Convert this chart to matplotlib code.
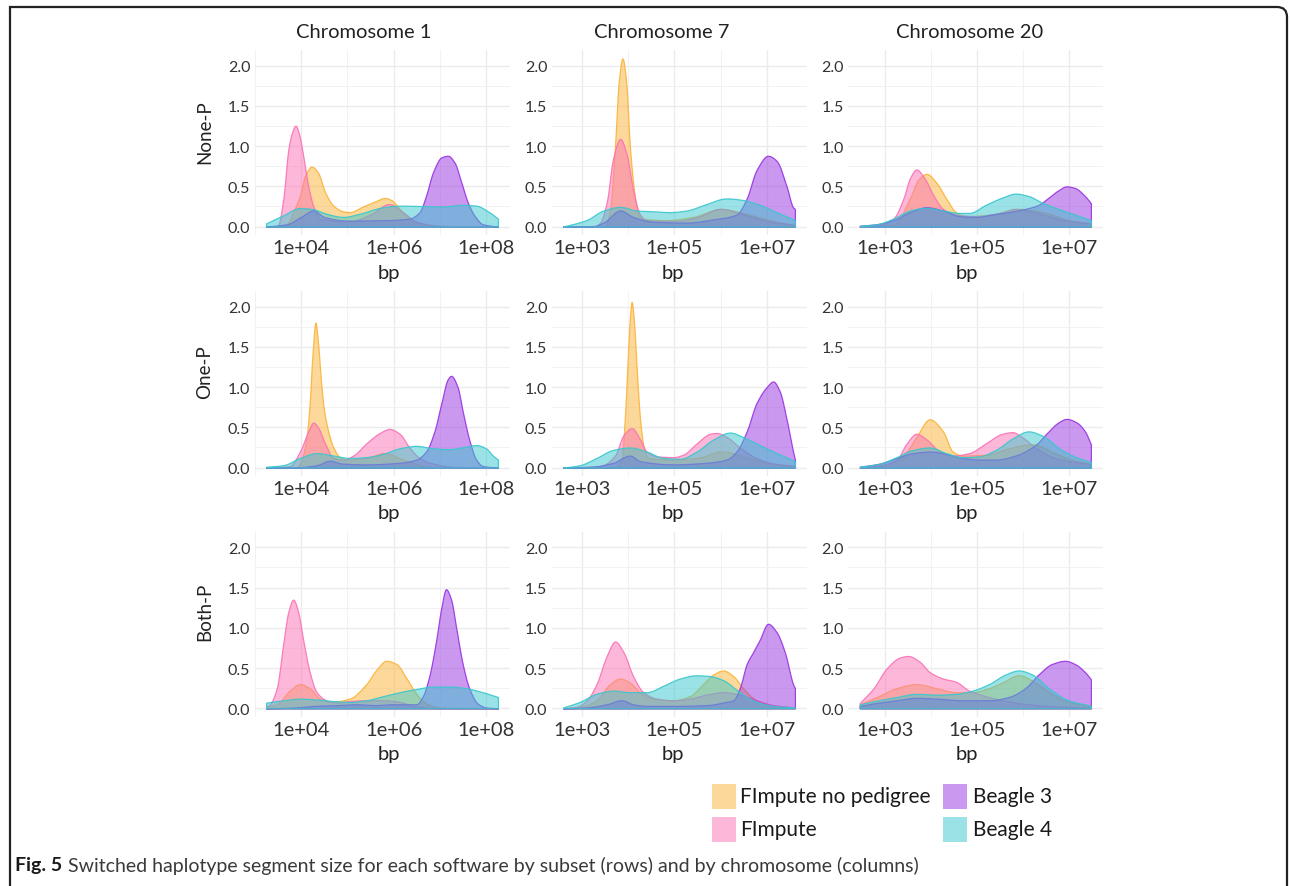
import numpy as np
import matplotlib
matplotlib.use("Agg")
import matplotlib.pyplot as plt
from matplotlib.patches import Rectangle, PathPatch
from matplotlib.path import Path
from matplotlib.ticker import FixedLocator, FuncFormatter, NullFormatter

plt.rcParams['font.family'] = ['Lato', 'DejaVu Sans']

# ---------------- data (x = log10 of segment size in bp, y = density) ----------------
chromosomes = ['Chromosome 1', 'Chromosome 7', 'Chromosome 20']
subsets = ['None-P', 'One-P', 'Both-P']
software = ['FImpute no pedigree', 'FImpute', 'Beagle 3', 'Beagle 4']
x_label_breaks = [[4, 6, 8], [3, 5, 7], [3, 5, 7]]
y_breaks = [0.0, 0.5, 1.0, 1.5, 2.0]

# Chromosome 1, None-P
c1_none_nop_x = [3.25, 3.6, 3.7, 3.85, 3.98, 4.09, 4.23, 4.37, 4.52, 4.70, 4.91, 5.05, 5.34, 5.63, 5.81, 5.95, 6.13, 6.27, 6.49, 6.8, 7.2, 8.25]
c1_none_nop_y = [0.0, 0.0, 0.03, 0.2, 0.385, 0.63, 0.745, 0.67, 0.43, 0.26, 0.19, 0.18, 0.25, 0.32, 0.356, 0.33, 0.22, 0.13, 0.05, 0.01, 0.0, 0.0]
c1_none_fim_x = [3.25, 3.5, 3.62, 3.73, 3.80, 3.885, 3.96, 4.05, 4.16, 4.27, 4.41, 4.6, 5.0, 5.5, 5.9, 6.2, 6.5, 7.0, 8.25]
c1_none_fim_y = [0.0, 0.01, 0.34, 0.96, 1.15, 1.255, 1.15, 0.88, 0.5, 0.25, 0.1, 0.08, 0.06, 0.15, 0.28, 0.18, 0.06, 0.01, 0.0]
c1_none_b3_x = [3.25, 3.7, 4.0, 4.27, 4.5, 5.0, 5.8, 6.34, 6.56, 6.70, 6.85, 7.03, 7.17, 7.31, 7.46, 7.60, 7.74, 7.92, 8.25]
c1_none_b3_y = [0.0, 0.03, 0.12, 0.2, 0.12, 0.075, 0.08, 0.1, 0.18, 0.385, 0.675, 0.86, 0.88, 0.8, 0.55, 0.3, 0.14, 0.03, 0.0]
c1_none_b4_x = [3.25, 3.62, 3.98, 4.23, 4.55, 4.91, 5.27, 5.77, 6.13, 6.63, 7.06, 7.49, 7.78, 8.06, 8.25]
c1_none_b4_y = [0.04, 0.14, 0.23, 0.22, 0.16, 0.12, 0.16, 0.24, 0.26, 0.255, 0.25, 0.27, 0.26, 0.18, 0.10]

# Chromosome 7, None-P
c7_none_nop_x = [2.6, 3.5, 3.61, 3.72, 3.80, 3.88, 3.96, 4.04, 4.13, 4.22, 4.33, 4.8, 5.4, 6.0, 6.6, 7.2, 7.6]
c7_none_nop_y = [0.0, 0.0, 0.2, 1.0, 1.8, 2.09, 1.8, 1.0, 0.45, 0.15, 0.1, 0.08, 0.12, 0.22, 0.15, 0.06, 0.02]
c7_none_fim_x = [2.6, 3.3, 3.40, 3.54, 3.68, 3.83, 3.97, 4.11, 4.26, 4.40, 5.0, 5.5, 6.0, 6.5, 7.0, 7.6]
c7_none_fim_y = [0.0, 0.01, 0.05, 0.3, 0.85, 1.09, 0.9, 0.45, 0.15, 0.08, 0.07, 0.12, 0.22, 0.15, 0.07, 0.02]
c7_none_b3_x = [2.6, 3.2, 3.47, 3.83, 4.11, 4.54, 5.26, 5.84, 6.34, 6.56, 6.77, 7.02, 7.20, 7.42, 7.56, 7.6]
c7_none_b3_y = [0.0, 0.0, 0.05, 0.2, 0.12, 0.06, 0.05, 0.09, 0.15, 0.35, 0.7, 0.88, 0.82, 0.5, 0.24, 0.22]
c7_none_b4_x = [2.6, 3.1, 3.47, 3.83, 4.19, 4.54, 4.90, 5.26, 5.69, 6.12, 6.48, 6.84, 7.20, 7.6]
c7_none_b4_y = [0.0, 0.08, 0.2, 0.245, 0.2, 0.19, 0.18, 0.2, 0.28, 0.35, 0.33, 0.27, 0.18, 0.08]

# Chromosome 20, None-P
c20_none_nop_x = [2.45, 3.2, 3.54, 3.72, 3.90, 4.11, 4.33, 4.54, 4.76, 5.3, 5.9, 6.5, 7.0, 7.48]
c20_none_nop_y = [0.0, 0.03, 0.35, 0.58, 0.655, 0.55, 0.35, 0.18, 0.13, 0.15, 0.22, 0.17, 0.08, 0.04]
c20_none_fim_x = [2.45, 2.9, 3.18, 3.40, 3.54, 3.68, 3.86, 4.04, 4.26, 4.54, 5.0, 5.5, 5.84, 6.3, 6.9, 7.48]
c20_none_fim_y = [0.0, 0.02, 0.1, 0.35, 0.6, 0.71, 0.6, 0.4, 0.22, 0.15, 0.13, 0.17, 0.22, 0.17, 0.08, 0.04]
c20_none_b3_x = [2.45, 2.82, 3.18, 3.54, 3.90, 4.26, 4.62, 4.98, 5.33, 5.69, 6.05, 6.34, 6.56, 6.77, 6.95, 7.13, 7.35, 7.48]
c20_none_b3_y = [0.01, 0.03, 0.08, 0.18, 0.24, 0.2, 0.13, 0.12, 0.15, 0.18, 0.22, 0.27, 0.36, 0.45, 0.5, 0.48, 0.38, 0.29]
c20_none_b4_x = [2.45, 2.82, 3.18, 3.54, 3.90, 4.26, 4.62, 4.83, 5.19, 5.55, 5.84, 6.12, 6.41, 6.77, 7.13, 7.48]
c20_none_b4_y = [0.01, 0.03, 0.1, 0.2, 0.235, 0.2, 0.17, 0.17, 0.27, 0.36, 0.41, 0.38, 0.3, 0.22, 0.15, 0.08]

# Chromosome 1, One-P
c1_one_nop_x = [3.25, 3.9, 3.98, 4.12, 4.19, 4.25, 4.315, 4.37, 4.43, 4.49, 4.59, 4.70, 4.84, 5.0, 5.4, 5.8, 6.2, 6.6, 7.0, 8.25]
c1_one_nop_y = [0.0, 0.0, 0.05, 0.36, 0.8, 1.4, 1.80, 1.55, 1.1, 0.75, 0.45, 0.25, 0.13, 0.1, 0.12, 0.18, 0.1, 0.03, 0.0, 0.0]
c1_one_fim_x = [3.25, 3.76, 3.98, 4.16, 4.27, 4.37, 4.52, 4.70, 4.91, 5.13, 5.41, 5.70, 5.91, 6.13, 6.34, 6.56, 6.85, 7.3, 8.25]
c1_one_fim_y = [0.0, 0.02, 0.2, 0.45, 0.56, 0.5, 0.3, 0.12, 0.1, 0.15, 0.3, 0.43, 0.48, 0.42, 0.25, 0.12, 0.05, 0.01, 0.0]
c1_one_b3_x = [3.25, 3.8, 4.34, 4.62, 4.9, 5.4, 6.13, 6.49, 6.70, 6.88, 7.03, 7.17, 7.24, 7.38, 7.49, 7.63, 7.78, 7.92, 8.25]
c1_one_b3_y = [0.0, 0.0, 0.03, 0.085, 0.05, 0.04, 0.06, 0.1, 0.2, 0.45, 0.8, 1.1, 1.14, 1.0, 0.7, 0.35, 0.1, 0.02, 0.0]
c1_one_b4_x = [3.25, 3.62, 3.98, 4.34, 4.70, 5.05, 5.41, 5.77, 6.13, 6.49, 6.85, 7.20, 7.56, 7.78, 7.99, 8.14, 8.25]
c1_one_b4_y = [0.01, 0.03, 0.12, 0.18, 0.15, 0.12, 0.13, 0.17, 0.24, 0.27, 0.24, 0.23, 0.26, 0.28, 0.24, 0.15, 0.1]

# Chromosome 7, One-P
c7_one_nop_x = [2.6, 3.7, 3.86, 3.93, 3.99, 4.04, 4.08, 4.13, 4.19, 4.26, 4.34, 4.44, 5.0, 5.5, 6.02, 6.6, 7.1, 7.6]
c7_one_nop_y = [0.0, 0.0, 0.1, 0.6, 1.3, 1.85, 2.06, 1.8, 1.2, 0.6, 0.25, 0.12, 0.1, 0.12, 0.2, 0.12, 0.05, 0.02]
c7_one_fim_x = [2.6, 3.4, 3.72, 3.90, 4.08, 4.26, 4.40, 4.62, 4.98, 5.19, 5.48, 5.77, 5.91, 6.13, 6.41, 6.77, 7.13, 7.6]
c7_one_fim_y = [0.0, 0.02, 0.15, 0.4, 0.49, 0.35, 0.2, 0.14, 0.13, 0.16, 0.3, 0.42, 0.43, 0.38, 0.25, 0.12, 0.05, 0.02]
c7_one_b3_x = [2.6, 3.2, 3.68, 4.04, 4.26, 4.98, 5.69, 6.12, 6.34, 6.56, 6.77, 6.99, 7.13, 7.27, 7.42, 7.56, 7.6]
c7_one_b3_y = [0.0, 0.01, 0.06, 0.15, 0.08, 0.04, 0.06, 0.1, 0.2, 0.45, 0.8, 1.0, 1.07, 0.95, 0.6, 0.2, 0.1]
c7_one_b4_x = [2.6, 2.96, 3.32, 3.68, 4.04, 4.40, 4.76, 5.12, 5.48, 5.84, 6.20, 6.48, 6.77, 7.13, 7.6]
c7_one_b4_y = [0.0, 0.03, 0.12, 0.22, 0.25, 0.2, 0.12, 0.11, 0.2, 0.35, 0.435, 0.38, 0.3, 0.2, 0.08]

# Chromosome 20, One-P
c20_one_nop_x = [2.45, 3.0, 3.47, 3.68, 3.97, 4.26, 4.47, 4.69, 5.2, 5.7, 6.2, 6.7, 7.1, 7.48]
c20_one_nop_y = [0.0, 0.03, 0.2, 0.38, 0.6, 0.45, 0.2, 0.15, 0.16, 0.24, 0.29, 0.18, 0.09, 0.05]
c20_one_fim_x = [2.45, 2.9, 3.25, 3.47, 3.68, 3.90, 4.19, 4.47, 4.83, 5.19, 5.55, 5.77, 5.98, 6.27, 6.70, 7.48]
c20_one_fim_y = [0.0, 0.03, 0.1, 0.3, 0.42, 0.35, 0.2, 0.15, 0.18, 0.3, 0.42, 0.44, 0.38, 0.25, 0.12, 0.04]
c20_one_b3_x = [2.45, 2.89, 3.25, 3.61, 3.97, 4.33, 4.69, 5.05, 5.41, 5.84, 6.27, 6.56, 6.77, 6.95, 7.17, 7.35, 7.48]
c20_one_b3_y = [0.01, 0.05, 0.12, 0.18, 0.2, 0.17, 0.12, 0.1, 0.1, 0.15, 0.28, 0.45, 0.56, 0.605, 0.56, 0.45, 0.29]
c20_one_b4_x = [2.45, 2.89, 3.25, 3.61, 3.97, 4.33, 4.69, 5.05, 5.41, 5.77, 6.12, 6.41, 6.84, 7.20, 7.48]
c20_one_b4_y = [0.01, 0.05, 0.13, 0.22, 0.25, 0.18, 0.13, 0.14, 0.22, 0.36, 0.45, 0.4, 0.22, 0.12, 0.07]

# Chromosome 1, Both-P
c1_both_nop_x = [3.25, 3.48, 3.76, 3.98, 4.19, 4.41, 4.62, 5.05, 5.41, 5.63, 5.84, 6.06, 6.27, 6.49, 6.70, 7.0, 8.25]
c1_both_nop_y = [0.02, 0.05, 0.22, 0.3, 0.25, 0.12, 0.08, 0.12, 0.3, 0.48, 0.59, 0.55, 0.38, 0.18, 0.06, 0.01, 0.0]
c1_both_fim_x = [3.25, 3.33, 3.48, 3.62, 3.73, 3.835, 3.94, 4.05, 4.19, 4.34, 4.55, 4.77, 5.05, 5.41, 5.77, 6.13, 6.49, 7.0, 8.25]
c1_both_fim_y = [0.02, 0.05, 0.25, 0.8, 1.2, 1.35, 1.2, 0.85, 0.45, 0.2, 0.1, 0.07, 0.09, 0.1, 0.1, 0.08, 0.02, 0.0, 0.0]
c1_both_b3_x = [3.25, 3.9, 4.3, 4.8, 5.2, 5.6, 6.0, 6.49, 6.63, 6.77, 6.92, 7.03, 7.13, 7.24, 7.35, 7.49, 7.63, 7.81, 8.0, 8.25]
c1_both_b3_y = [0.0, 0.01, 0.03, 0.04, 0.05, 0.04, 0.05, 0.05, 0.15, 0.4, 0.85, 1.25, 1.48, 1.35, 1.0, 0.55, 0.25, 0.06, 0.01, 0.0]
c1_both_b4_x = [3.25, 3.62, 3.98, 4.34, 4.70, 5.05, 5.41, 5.77, 6.13, 6.49, 6.85, 7.20, 7.56, 7.92, 8.25]
c1_both_b4_y = [0.07, 0.1, 0.12, 0.11, 0.09, 0.08, 0.1, 0.15, 0.2, 0.24, 0.27, 0.27, 0.25, 0.2, 0.14]

# Chromosome 7, Both-P
c7_both_nop_x = [2.6, 3.0, 3.32, 3.61, 3.83, 4.04, 4.26, 4.54, 4.98, 5.33, 5.62, 5.84, 6.05, 6.27, 6.48, 6.77, 7.13, 7.6]
c7_both_nop_y = [0.0, 0.02, 0.1, 0.3, 0.37, 0.32, 0.2, 0.12, 0.1, 0.15, 0.3, 0.42, 0.47, 0.4, 0.25, 0.1, 0.03, 0.0]
c7_both_fim_x = [2.6, 2.9, 3.11, 3.32, 3.54, 3.72, 3.90, 4.11, 4.33, 4.62, 4.98, 5.33, 5.69, 6.05, 6.41, 6.77, 7.13, 7.6]
c7_both_fim_y = [0.0, 0.02, 0.1, 0.3, 0.65, 0.83, 0.7, 0.4, 0.2, 0.12, 0.1, 0.12, 0.17, 0.2, 0.17, 0.1, 0.04, 0.01]
c7_both_b3_x = [2.6, 3.1, 3.54, 3.86, 4.11, 4.4, 5.0, 5.7, 6.12, 6.27, 6.41, 6.56, 6.70, 6.84, 7.02, 7.20, 7.38, 7.56, 7.6]
c7_both_b3_y = [0.0, 0.01, 0.05, 0.1, 0.05, 0.03, 0.03, 0.04, 0.08, 0.1, 0.25, 0.55, 0.7, 0.85, 1.05, 0.95, 0.7, 0.3, 0.25]
c7_both_b4_x = [2.6, 2.96, 3.32, 3.68, 4.04, 4.40, 4.76, 5.12, 5.48, 5.77, 6.05, 6.41, 6.77, 7.13, 7.6]
c7_both_b4_y = [0.01, 0.08, 0.18, 0.22, 0.2, 0.2, 0.28, 0.37, 0.41, 0.4, 0.35, 0.2, 0.08, 0.03, 0.01]

# Chromosome 20, Both-P
c20_both_nop_x = [2.45, 2.86, 3.25, 3.68, 4.11, 4.54, 4.90, 5.26, 5.55, 5.91, 6.27, 6.63, 6.99, 7.48]
c20_both_nop_y = [0.05, 0.15, 0.25, 0.3, 0.25, 0.2, 0.2, 0.25, 0.32, 0.41, 0.32, 0.18, 0.08, 0.03]
c20_both_fim_x = [2.45, 2.75, 3.04, 3.32, 3.50, 3.75, 3.97, 4.26, 4.54, 4.83, 5.19, 5.55, 6.12, 6.84, 7.48]
c20_both_fim_y = [0.065, 0.25, 0.5, 0.63, 0.65, 0.58, 0.45, 0.37, 0.33, 0.22, 0.15, 0.1, 0.05, 0.02, 0.01]
c20_both_b3_x = [2.45, 2.86, 3.25, 3.68, 4.11, 4.69, 5.26, 5.69, 6.05, 6.34, 6.63, 6.92, 7.13, 7.35, 7.48]
c20_both_b3_y = [0.03, 0.07, 0.1, 0.13, 0.12, 0.1, 0.1, 0.14, 0.25, 0.42, 0.55, 0.59, 0.55, 0.45, 0.36]
c20_both_b4_x = [2.45, 2.86, 3.25, 3.68, 4.11, 4.54, 4.90, 5.26, 5.62, 5.91, 6.20, 6.56, 6.99, 7.48]
c20_both_b4_y = [0.05, 0.1, 0.14, 0.18, 0.17, 0.18, 0.22, 0.3, 0.42, 0.47, 0.42, 0.25, 0.1, 0.03]

# table of curves: panels[row][col] = list of (x, y) per software
panels = [
    [[(c1_none_nop_x, c1_none_nop_y), (c1_none_fim_x, c1_none_fim_y), (c1_none_b3_x, c1_none_b3_y), (c1_none_b4_x, c1_none_b4_y)],
     [(c7_none_nop_x, c7_none_nop_y), (c7_none_fim_x, c7_none_fim_y), (c7_none_b3_x, c7_none_b3_y), (c7_none_b4_x, c7_none_b4_y)],
     [(c20_none_nop_x, c20_none_nop_y), (c20_none_fim_x, c20_none_fim_y), (c20_none_b3_x, c20_none_b3_y), (c20_none_b4_x, c20_none_b4_y)]],
    [[(c1_one_nop_x, c1_one_nop_y), (c1_one_fim_x, c1_one_fim_y), (c1_one_b3_x, c1_one_b3_y), (c1_one_b4_x, c1_one_b4_y)],
     [(c7_one_nop_x, c7_one_nop_y), (c7_one_fim_x, c7_one_fim_y), (c7_one_b3_x, c7_one_b3_y), (c7_one_b4_x, c7_one_b4_y)],
     [(c20_one_nop_x, c20_one_nop_y), (c20_one_fim_x, c20_one_fim_y), (c20_one_b3_x, c20_one_b3_y), (c20_one_b4_x, c20_one_b4_y)]],
    [[(c1_both_nop_x, c1_both_nop_y), (c1_both_fim_x, c1_both_fim_y), (c1_both_b3_x, c1_both_b3_y), (c1_both_b4_x, c1_both_b4_y)],
     [(c7_both_nop_x, c7_both_nop_y), (c7_both_fim_x, c7_both_fim_y), (c7_both_b3_x, c7_both_b3_y), (c7_both_b4_x, c7_both_b4_y)],
     [(c20_both_nop_x, c20_both_nop_y), (c20_both_fim_x, c20_both_fim_y), (c20_both_b3_x, c20_both_b3_y), (c20_both_b4_x, c20_both_b4_y)]],
]

# ---------------- style / layout ----------------
colors = ['#FBB337', '#FB71B5', '#9933E1', '#37C7CD']
W, H, DPI = 1290, 887, 100
panel_left = [254.5, 551.5, 848.3]
panel_top = [51.0, 292.0, 532.7]
panel_w, panel_h = 255.0, 185.0
xlims = [(3.0, 8.5), (2.35, 7.85), (2.2, 7.75)]
ylim = (-0.1045, 2.194)
TXT = '#222222'
TICK = '#333333'


def fx(px):
    return px / W


def fy(py):
    return 1.0 - py / H


def smooth(x, y, n=400):
    """monotone cubic (PCHIP) curve through the read points, for drawing"""
    x = np.asarray(x, float)
    y = np.asarray(y, float)
    h = np.diff(x)
    d = np.diff(y) / h
    m = np.zeros_like(y)
    for k in range(1, len(x) - 1):
        if d[k - 1] * d[k] > 0:
            w1 = 2 * h[k] + h[k - 1]
            w2 = h[k] + 2 * h[k - 1]
            m[k] = (w1 + w2) / (w1 / d[k - 1] + w2 / d[k])
    m[0] = d[0]
    m[-1] = d[-1]
    xn = np.linspace(x[0], x[-1], n)
    idx = np.clip(np.searchsorted(x, xn) - 1, 0, len(x) - 2)
    t = (xn - x[idx]) / h[idx]
    h00 = 2 * t**3 - 3 * t**2 + 1
    h10 = t**3 - 2 * t**2 + t
    h01 = -2 * t**3 + 3 * t**2
    h11 = t**3 - t**2
    yn = h00 * y[idx] + h10 * h[idx] * m[idx] + h01 * y[idx + 1] + h11 * h[idx] * m[idx + 1]
    return xn, np.clip(yn, 0, None)


def rgba(c, a):
    r, g, b = matplotlib.colors.to_rgb(c)
    return (r, g, b, a)


fig = plt.figure(figsize=(W / DPI, H / DPI), dpi=DPI)
fig.patch.set_facecolor('white')

for r in range(3):
    for c in range(3):
        ax = fig.add_axes([fx(panel_left[c]), fy(panel_top[r] + panel_h), panel_w / W, panel_h / H])
        ax.set_xscale('log')
        lo, hi = xlims[c]
        ax.set_xlim(10**lo, 10**hi)
        ax.set_ylim(*ylim)
        for s in ax.spines.values():
            s.set_visible(False)
        ax.set_facecolor('white')
        majors = x_label_breaks[c]
        minors = [e for e in range(int(np.floor(lo)), int(np.ceil(hi)) + 1) if e not in majors and lo <= e <= hi]
        ax.xaxis.set_major_locator(FixedLocator([10.0**e for e in majors]))
        ax.xaxis.set_minor_locator(FixedLocator([10.0**e for e in minors]))
        ax.xaxis.set_major_formatter(FuncFormatter(lambda v, p: '1e+%02d' % int(round(np.log10(v)))))
        ax.xaxis.set_minor_formatter(NullFormatter())
        ax.yaxis.set_major_locator(FixedLocator(y_breaks))
        ax.yaxis.set_minor_locator(FixedLocator([0.25, 0.75, 1.25, 1.75]))
        ax.yaxis.set_major_formatter(FuncFormatter(lambda v, p: '%.1f' % v))
        ax.grid(which='major', color='#EBEBEB', linewidth=1.0)
        ax.grid(which='minor', color='#F2F2F2', linewidth=0.7)
        ax.set_axisbelow(True)
        ax.tick_params(axis='both', which='both', length=0)
        ax.tick_params(axis='x', which='major', labelsize=14.5, pad=3, labelcolor=TICK)
        ax.tick_params(axis='y', which='major', labelsize=11.5, pad=3, labelcolor=TICK)

        for k, (xs, ys) in enumerate(panels[r][c]):
            xn, yn = smooth(xs, ys)
            ax.fill_between(10**xn, 0, yn, facecolor=rgba(colors[k], 0.5),
                            edgecolor=rgba(colors[k], 0.9), linewidth=0.9, zorder=2 + k)

        # x-axis title
        bp_x = [389, 673, 967][c]
        fig.text(fx(bp_x), fy(panel_top[r] + 222), 'bp', ha='center', va='center',
                 fontsize=14.5, color=TXT)

# column strip titles
for c, name in enumerate(chromosomes):
    fig.text(fx([364, 662, 970][c]), fy(33), name, ha='center', va='center', fontsize=14.5, color=TXT)

# row labels
for r, name in enumerate(subsets):
    fig.text(fx(205), fy([132, 372, 612][r]), name, ha='center', va='center', rotation=90,
             fontsize=13.5, color=TXT)

# legend
leg_cols = [(712, 740), (943, 973)]
leg_rows = [797, 830]
for k, name in enumerate(software):
    col, row = k // 2, k % 2
    sx, tx = leg_cols[col]
    cy = leg_rows[row]
    fig.add_artist(Rectangle((fx(sx), fy(cy + 12.5)), 24 / W, 25 / H, transform=fig.transFigure,
                             facecolor=rgba(colors[k], 0.5), edgecolor='none'))
    fig.text(fx(tx), fy(cy), name, ha='left', va='center', fontsize=15, color='#1a1a1a')

# figure frame (square top-left, rounded top-right)
x0, x1, y0, yb, rad = 10, 1287, 8, 900, 10
verts = [(x0, yb), (x0, y0), (x1 - rad, y0), (x1, y0), (x1, y0 + rad), (x1, yb)]
codes = [Path.MOVETO, Path.LINETO, Path.LINETO, Path.CURVE3, Path.CURVE3, Path.LINETO]
frame = PathPatch(Path([(fx(a), fy(b)) for a, b in verts], codes), transform=fig.transFigure,
                  facecolor='none', edgecolor='#222222', linewidth=1.6)
fig.add_artist(frame)

# caption
t1 = fig.text(fx(15), fy(866), 'Fig. 5', ha='left', va='center', fontsize=14,
              fontweight='bold', color='#1a1a1a')
fig.canvas.draw()
bb = t1.get_window_extent()
fig.text(bb.x1 / W + 6 / W, fy(866),
         'Switched haplotype segment size for each software by subset (rows) and by chromosome (columns)',
         ha='left', va='center', fontsize=14, color='#3a3a3a')

fig.savefig('out.png', dpi=DPI)
